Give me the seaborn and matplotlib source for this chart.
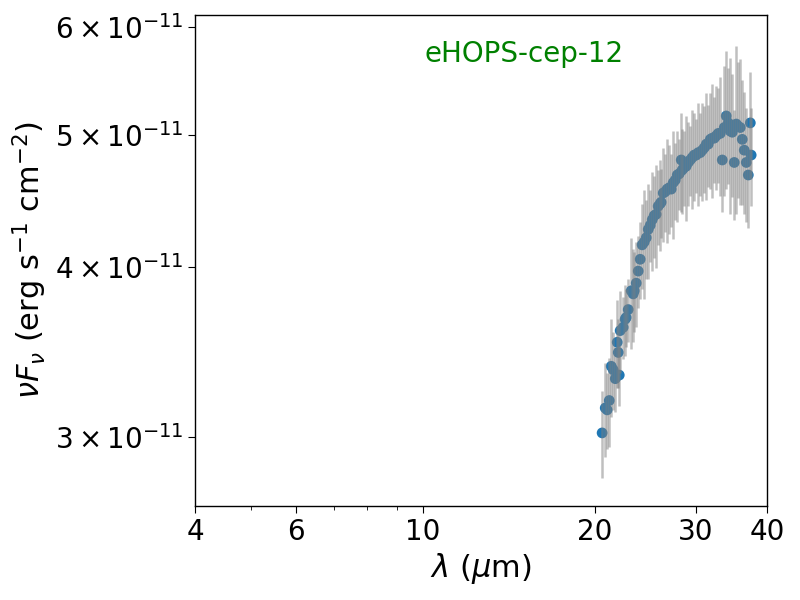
import numpy as np
import pandas as pd
import matplotlib
matplotlib.use("Agg")
import matplotlib.pyplot as plt
import seaborn as sns
from matplotlib.ticker import FixedLocator, FixedFormatter, NullFormatter

# wavelength (micron), flux (1e-11 erg s^-1 cm^-2), error (1e-11)
wave = [20.58, 20.84, 21.00, 21.18, 21.35, 21.52, 21.70, 21.87, 21.96, 22.05,
        22.13, 22.40, 22.58, 22.67, 22.86, 23.14, 23.32, 23.42, 23.61, 23.80,
        23.99, 24.18, 24.38, 24.58, 24.78, 24.98, 25.18, 25.38, 25.58, 25.79,
        26.00, 26.10, 26.32, 26.53, 26.74, 26.96, 27.18, 27.40, 27.62, 27.85,
        28.07, 28.30, 28.41, 28.64, 28.87, 29.11, 29.34, 29.58, 29.82, 30.06,
        30.31, 30.55, 30.80, 31.05, 31.30, 31.55, 31.81, 32.06, 32.32, 32.58,
        32.85, 33.11, 33.38, 33.65, 33.92, 34.20, 34.47, 34.75, 35.03, 35.32,
        35.60, 35.89, 36.18, 36.47, 36.77, 37.07, 37.37, 37.50]
flux = [3.02, 3.15, 3.14, 3.19, 3.38, 3.36, 3.31, 3.52, 3.46, 3.33,
        3.59, 3.61, 3.66, 3.67, 3.72, 3.84, 3.82, 3.84, 3.89, 3.97,
        4.05, 4.15, 4.17, 4.20, 4.26, 4.29, 4.33, 4.36, 4.37, 4.43,
        4.45, 4.46, 4.53, 4.54, 4.56, 4.57, 4.56, 4.61, 4.63, 4.67,
        4.68, 4.79, 4.71, 4.73, 4.74, 4.77, 4.79, 4.81, 4.83, 4.83,
        4.85, 4.85, 4.87, 4.89, 4.92, 4.92, 4.96, 4.97, 4.97, 4.99,
        5.01, 5.01, 4.79, 5.06, 5.16, 5.10, 5.03, 5.02, 4.77, 5.09,
        5.07, 5.06, 4.96, 4.87, 4.77, 4.67, 5.10, 4.83]
err = [0.22, 0.25, 0.20, 0.24, 0.28, 0.22, 0.18, 0.26, 0.20, 0.17,
       0.25, 0.19, 0.22, 0.18, 0.20, 0.36, 0.30, 0.26, 0.28, 0.24,
       0.26, 0.30, 0.38, 0.28, 0.34, 0.26, 0.36, 0.30, 0.38, 0.28,
       0.34, 0.26, 0.36, 0.30, 0.40, 0.34, 0.28, 0.42, 0.30, 0.36,
       0.28, 0.40, 0.34, 0.30, 0.42, 0.34, 0.28, 0.40, 0.36, 0.30,
       0.42, 0.34, 0.40, 0.36, 0.44, 0.34, 0.40, 0.48, 0.36, 0.44,
       0.40, 0.50, 0.40, 0.55, 0.60, 0.50, 0.66, 0.52, 0.44, 0.72,
       0.58, 0.62, 0.52, 0.50, 0.46, 0.40, 0.46, 0.40]

df = pd.DataFrame({"wave": wave,
                   "flux": np.array(flux) * 1e-11,
                   "err": np.array(err) * 1e-11})

sns.set_style("ticks")
plt.rcParams["font.family"] = ["DejaVu Sans"]
plt.rcParams.update({"text.color": "black", "axes.labelcolor": "black",
                     "xtick.color": "black", "ytick.color": "black",
                     "axes.edgecolor": "black"})

fig = plt.figure(figsize=(8, 6), dpi=100)
ax = fig.add_axes([0.244, 0.157, 0.715, 0.818])

sns.scatterplot(data=df, x="wave", y="flux", ax=ax, color="tab:blue",
                s=60, edgecolor="none", zorder=2)
ax.errorbar(df["wave"], df["flux"], yerr=df["err"], fmt="none",
            ecolor="gray", alpha=0.5, elinewidth=1.8, zorder=3)

ax.set_xscale("log")
ax.set_yscale("log")
ax.set_xlim(4, 40)
ax.set_ylim(2.67e-11, 6.12e-11)

xt = [4, 6, 10, 20, 30, 40]
ax.xaxis.set_major_locator(FixedLocator(xt))
ax.xaxis.set_major_formatter(FixedFormatter([str(v) for v in xt]))
ax.xaxis.set_minor_locator(FixedLocator([5, 7, 8, 9]))
ax.xaxis.set_minor_formatter(NullFormatter())

yt = [3e-11, 4e-11, 5e-11, 6e-11]
ax.yaxis.set_major_locator(FixedLocator(yt))
ax.yaxis.set_major_formatter(FixedFormatter(
    [r"$3\times10^{-11}$", r"$4\times10^{-11}$", r"$5\times10^{-11}$", r"$6\times10^{-11}$"]))
ax.yaxis.set_minor_locator(FixedLocator([]))

ax.tick_params(axis="both", which="major", labelsize=20, length=5, colors="black")
ax.tick_params(axis="both", which="minor", length=3, colors="black")

ax.set_xlabel(r"$\lambda\ (\mu$m)", fontsize=22, color="black")
ax.set_ylabel(r"$\nu F_\nu$ (erg s$^{-1}$ cm$^{-2}$)", fontsize=22, color="black")

ax.text(0.575, 0.92, "eHOPS-cep-12", color="green", fontsize=20,
        ha="center", va="center", transform=ax.transAxes)

for s in ax.spines.values():
    s.set_visible(True)
    s.set_linewidth(1.0)
    s.set_color("black")

fig.savefig("out.png", dpi=100)
